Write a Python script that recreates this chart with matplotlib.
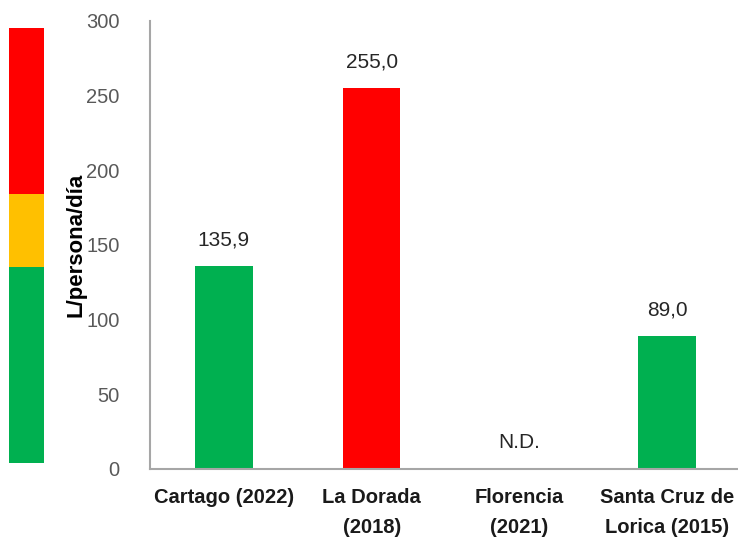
import numpy as np
import matplotlib.pyplot as plt

# data
categories = ["Cartago (2022)", "La Dorada\n(2018)", "Florencia\n(2021)", "Santa Cruz de\nLorica (2015)"]
values = [135.9, 255.0, np.nan, 89.0]
bar_colors = ["#00B050", "#FF0000", "#00B050", "#00B050"]
value_labels = ["135,9", "255,0", "N.D.", "89,0"]

# traffic-light scale on the left (L/persona/dia bands)
band_edges = [4, 135, 184, 295]
band_colors = ["#00B050", "#FFC000", "#FF0000"]

plt.rcParams["font.family"] = ["Liberation Sans", "DejaVu Sans"]

fig = plt.figure(figsize=(7.38, 5.41), dpi=100)
ax = fig.add_axes([150 / 738, 72 / 541, 591 / 738, 448 / 541])

x = np.arange(len(categories))
heights = np.nan_to_num(values)
ax.bar(x, heights, width=0.39, color=bar_colors)

for xi, v, lab in zip(x, heights, value_labels):
    ax.annotate(lab, (xi, v), xytext=(0, 12), textcoords="offset points",
                ha="center", va="bottom", fontsize=15, color="#262626")

ax.set_xlim(-0.5, len(categories) - 0.5)
ax.set_ylim(0, 300)
ax.set_yticks(np.arange(0, 301, 50))
ax.set_xticks(x)
ax.set_xticklabels(categories, fontsize=14.5, fontweight="bold", color="#1a1a1a",
                   linespacing=1.7)
ax.tick_params(axis="y", length=0, pad=22, labelsize=14.5, labelcolor="#595959")
ax.tick_params(axis="x", length=0, pad=14)
for s in ["top", "right"]:
    ax.spines[s].set_visible(False)
for s in ["left", "bottom"]:
    ax.spines[s].set_color("#a6a6a6")
    ax.spines[s].set_linewidth(1.5)
ax.set_ylabel("L/persona/día", fontsize=16, fontweight="bold")
ax.yaxis.set_label_coords(-64 / 591, 0.5)

# colour scale bar
cax = fig.add_axes([9 / 738, 72 / 541, 35 / 738, 448 / 541])
cax.set_ylim(0, 300)
cax.set_xlim(0, 1)
for lo, hi, c in zip(band_edges[:-1], band_edges[1:], band_colors):
    cax.bar(0.5, hi - lo, bottom=lo, width=1.0, color=c)
cax.axis("off")

fig.savefig("out.png", dpi=100)
